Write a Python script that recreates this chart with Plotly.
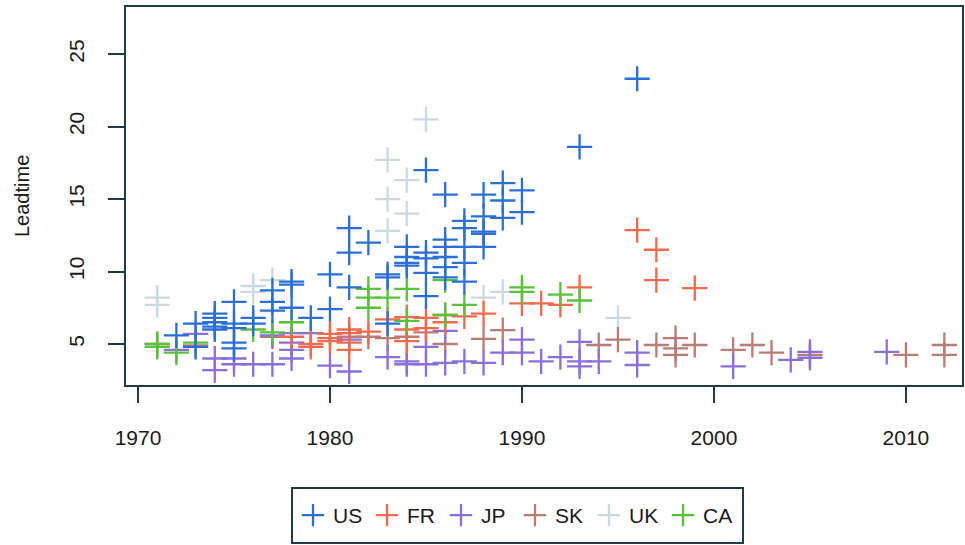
import plotly.graph_objects as go

# ---- data (year, leadtime) per country ----
us_year = [1972, 1973, 1973, 1974, 1974, 1974, 1974, 1974, 1975, 1975, 1975, 1975, 1975,
           1976, 1976, 1977, 1977, 1977, 1978, 1978, 1978, 1979, 1980, 1980,
           1981, 1981, 1981, 1982, 1983, 1983, 1983, 1984, 1984, 1984, 1984,
           1985, 1985, 1985, 1985, 1985, 1986, 1986, 1986, 1986, 1986, 1986,
           1987, 1987, 1987, 1987, 1987, 1988, 1988, 1988, 1988, 1988,
           1989, 1989, 1989, 1990, 1990, 1993, 1996]
us_lead = [5.6, 6.4, 4.8, 7.1, 6.8, 6.5, 6.2, 6.0, 7.9, 6.4, 6.1, 5.1, 4.7,
           6.8, 6.4, 8.7, 7.9, 7.3, 9.3, 9.1, 7.5, 6.8, 9.8, 7.4,
           13.0, 11.3, 8.9, 12.0, 9.8, 9.6, 6.4, 11.7, 11.0, 10.6, 10.4,
           17.0, 11.3, 10.9, 9.9, 8.3, 15.3, 12.2, 11.7, 11.0, 10.3, 9.6,
           13.5, 13.0, 11.7, 10.6, 9.3, 15.3, 13.8, 12.75, 12.6, 11.7,
           16.1, 14.9, 13.7, 15.6, 14.1, 18.6, 23.3]

fr_year = [1971, 1978, 1979, 1979, 1980, 1980, 1980, 1981, 1981, 1981, 1981, 1982,
           1983, 1984, 1984, 1984, 1985, 1985, 1986, 1986, 1987, 1988, 1990, 1991,
           1992, 1993, 1996, 1997, 1997, 1999]
fr_lead = [5.0, 5.5, 5.0, 4.8, 5.7, 5.4, 5.2, 6.0, 5.75, 5.1, 4.6, 5.85,
           6.7, 6.85, 6.0, 5.2, 6.8, 6.1, 6.5, 7.0, 6.9, 7.1, 7.8, 7.8,
           7.7, 8.9, 12.85, 11.5, 9.4, 8.85]

jp_year = [1972, 1973, 1974, 1974, 1975, 1975, 1976, 1977, 1977, 1978, 1978, 1978, 1978,
           1979, 1980, 1981, 1981, 1983, 1984, 1984, 1985, 1985, 1986, 1986, 1987,
           1988, 1989, 1990, 1990, 1991, 1992, 1993, 1993, 1993, 1994, 1996, 1996,
           2001, 2004, 2005, 2005, 2009]
jp_lead = [4.6, 5.7, 4.0, 3.2, 4.0, 3.6, 3.6, 5.6, 3.6, 5.75, 5.1, 4.6, 4.0,
           5.75, 3.5, 5.3, 3.1, 4.1, 3.8, 3.6, 4.8, 3.6, 5.9, 3.7, 3.8,
           3.7, 4.4, 5.3, 4.4, 3.8, 4.1, 5.15, 3.8, 3.45, 3.8, 4.4, 3.55,
           3.45, 3.9, 4.45, 4.05, 4.45]

sk_year = [1973, 1977, 1981, 1982, 1983, 1984, 1985, 1986, 1988, 1989, 1994, 1995,
           1997, 1998, 1998, 1998, 1999, 2001, 2002, 2003, 2005, 2010, 2012, 2012]
sk_lead = [4.9, 5.5, 5.5, 5.5, 5.4, 5.5, 5.8, 5.0, 5.35, 5.95, 4.93, 5.3,
           4.93, 5.4, 4.7, 4.25, 4.93, 4.6, 4.93, 4.4, 4.25, 4.25, 4.93, 4.25]

uk_year = [1971, 1971, 1976, 1976, 1977, 1983, 1983, 1983, 1984, 1984, 1985, 1988, 1989, 1995]
uk_lead = [8.2, 7.7, 9.0, 8.6, 9.4, 17.7, 15.0, 12.8, 16.3, 14.0, 20.5, 8.2, 8.6, 6.8]

ca_year = [1971, 1971, 1972, 1973, 1976, 1977, 1978, 1982, 1982, 1982, 1983, 1984, 1984,
           1986, 1986, 1987, 1990, 1990, 1992, 1993]
ca_lead = [5.0, 4.8, 4.4, 5.1, 6.0, 5.8, 6.5, 8.8, 8.2, 7.5, 8.2, 8.8, 6.6,
           9.4, 7.0, 7.7, 8.9, 8.6, 8.4, 8.0]

countries = ["US", "FR", "JP", "SK", "UK", "CA"]
colors = {"US": "#2a6fd6", "FR": "#f4694c", "JP": "#8d6fdc",
          "SK": "#b97d76", "UK": "#c9dbe0", "CA": "#58c23a"}
series = {"US": (us_year, us_lead), "FR": (fr_year, fr_lead), "JP": (jp_year, jp_lead),
          "SK": (sk_year, sk_lead), "UK": (uk_year, uk_lead), "CA": (ca_year, ca_lead)}

x_ticks = [1970, 1980, 1990, 2000, 2010]
y_ticks = [5, 10, 15, 20, 25]

FONT = "Liberation Sans, Arial, sans-serif"
AX = "#22394a"

fig = go.Figure()
draw_order = ["UK", "SK", "JP", "FR", "CA", "US"]
for c in draw_order:
    xs, ys = series[c]
    fig.add_trace(go.Scatter(
        x=xs, y=ys, mode="markers", name=c,
        legendrank=countries.index(c) + 1,
        marker=dict(symbol="cross-thin", size=18,
                    line=dict(color=colors[c], width=2.3), color=colors[c]),
    ))

W, H = 965, 545
L, R, T, B = 126, 3, 7, 160
pw, ph = W - L - R, H - T - B

def px_x(p):
    return (p - L) / pw

def px_y(p):
    return (H - B - p) / ph

fig.update_layout(
    width=W, height=H,
    margin=dict(l=L, r=R, t=T, b=B, pad=0, autoexpand=False),
    plot_bgcolor="white", paper_bgcolor="white",
    font=dict(family=FONT, size=21, color="#1a1a1a"),
    showlegend=True,
    legend=dict(orientation="h", x=px_x(293), xanchor="left",
                y=px_y(515.5), yanchor="middle",
                font=dict(size=21, family=FONT, color="#1a1a1a"),
                entrywidth=29, entrywidthmode="pixels",
                bgcolor="rgba(0,0,0,0)", borderwidth=0,
                traceorder="normal"),
    xaxis=dict(range=[1969.375, 2012.92], tickvals=x_ticks, automargin=False,
               ticks="outside", ticklen=16, tickwidth=1.5, tickcolor=AX,
               showline=True, linecolor=AX, linewidth=1.8, mirror=True,
               showgrid=False, zeroline=False,
               tickfont=dict(size=21, family=FONT), ticklabelstandoff=17),
    yaxis=dict(range=[2.17, 28.25], tickvals=y_ticks, tickangle=-90, automargin=False,
               ticks="outside", ticklen=16, tickwidth=1.5, tickcolor=AX,
               showline=True, linecolor=AX, linewidth=1.8, mirror=True,
               showgrid=False, zeroline=False,
               tickfont=dict(size=21, family=FONT), ticklabelstandoff=16),
    annotations=[dict(text="Leadtime", xref="paper", yref="paper",
                      x=px_x(22), y=0.5, xanchor="center", yanchor="middle",
                      textangle=-90, showarrow=False,
                      font=dict(size=20, family=FONT, color="#1a1a1a"))],
    shapes=[dict(type="rect", xref="paper", yref="paper",
                 x0=px_x(292), x1=px_x(743), y0=px_y(543), y1=px_y(488),
                 line=dict(color=AX, width=2), fillcolor="rgba(0,0,0,0)")],
)

fig.write_html("out.html", config={"displayModeBar": False},
               post_script="document.body.style.margin='0';document.body.style.overflow='hidden';")
